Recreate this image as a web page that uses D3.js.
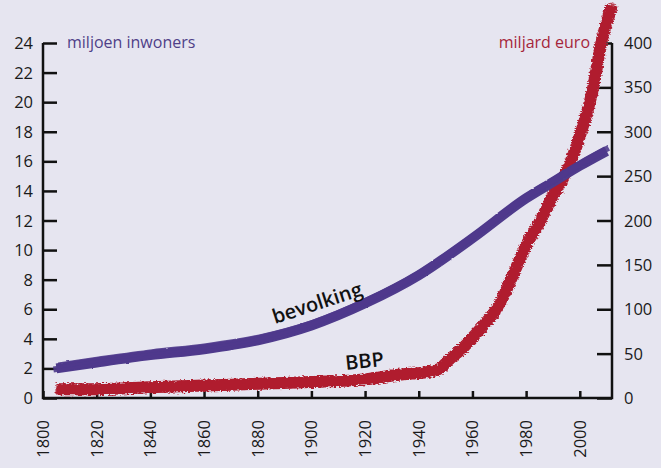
<!DOCTYPE html>
<html>
<head>
<meta charset="utf-8">
<script src="https://cdn.jsdelivr.net/npm/d3@7"></script>
<style>
  body { margin: 0; background: #e6e5f0; }
  svg { display: block; }
  text { font-family: "Open Sans", "DejaVu Sans", sans-serif; }
</style>
</head>
<body>
<div id="chart"></div>
<script>
// bevolking (miljoen inwoners)
const popYears = [1805, 1820, 1840, 1860, 1880, 1900, 1920, 1940, 1960, 1980, 1990, 2000, 2010];
const popValues = [2.0, 2.4, 2.9, 3.3, 3.9, 4.9, 6.4, 8.3, 10.8, 13.5, 14.6, 15.7, 16.7];

// BBP (miljard euro)
const gdpYears = [1805, 1820, 1840, 1860, 1880, 1900, 1920, 1935, 1940, 1947, 1952, 1957, 1960, 1965, 1970, 1975, 1980, 1985, 1990, 1995, 2000, 2005, 2008, 2012];
const gdpValues = [10, 10, 12, 14, 16, 18, 21, 27, 28, 32, 45, 58, 68, 85, 105, 138, 172, 198, 228, 255, 295, 350, 400, 442];

const xTicks = [1800, 1820, 1840, 1860, 1880, 1900, 1920, 1940, 1960, 1980, 2000];
const leftTicks = [0, 2, 4, 6, 8, 10, 12, 14, 16, 18, 20, 22, 24];
const rightTicks = [0, 50, 100, 150, 200, 250, 300, 350, 400];

const W = 661, H = 468;
const x = d3.scaleLinear().domain([1800, 2012]).range([43, 612]);
const yL = d3.scaleLinear().domain([0, 24]).range([398, 43]);
const yR = d3.scaleLinear().domain([0, 400]).range([398, 43]);

const svg = d3.select('#chart').append('svg').attr('width', W).attr('height', H);
svg.append('rect').attr('width', W).attr('height', H).attr('fill', '#e6e5f0');

const defs = svg.append('defs');
const rough = defs.append('filter').attr('id', 'rough').attr('x', '-5%').attr('y', '-5%').attr('width', '110%').attr('height', '110%');
rough.append('feTurbulence').attr('type', 'fractalNoise').attr('baseFrequency', '0.35 0.9').attr('numOctaves', 2).attr('seed', 3).attr('result', 'n');
rough.append('feDisplacementMap').attr('in', 'SourceGraphic').attr('in2', 'n').attr('scale', 5).attr('xChannelSelector', 'R').attr('yChannelSelector', 'G');
const soft = defs.append('filter').attr('id', 'soft');
soft.append('feTurbulence').attr('type', 'fractalNoise').attr('baseFrequency', '0.2 0.6').attr('numOctaves', 1).attr('seed', 7).attr('result', 'n');
soft.append('feDisplacementMap').attr('in', 'SourceGraphic').attr('in2', 'n').attr('scale', 2).attr('xChannelSelector', 'R').attr('yChannelSelector', 'G');

// axes
const axisColor = '#111';
const gL = svg.append('g').attr('transform', 'translate(43,0)')
  .call(d3.axisRight(yL).tickValues(leftTicks).tickSize(14).tickFormat(''));
const gR = svg.append('g').attr('transform', 'translate(612,0)')
  .call(d3.axisLeft(yR).tickValues(rightTicks).tickSize(15).tickFormat(''));
const gB = svg.append('g').attr('transform', 'translate(0,398)')
  .call(d3.axisTop(x).tickValues(xTicks).tickSize(7).tickFormat(''));
[gL, gR, gB].forEach(g => {
  g.select('.domain').remove();
  g.selectAll('line').attr('stroke', axisColor).attr('stroke-width', 2.5);
});
svg.append('path').attr('d', `M43,${yL(24)}V398H612V${yR(400)}`)
  .attr('fill', 'none').attr('stroke', axisColor).attr('stroke-width', 2.5);

// tick labels
svg.append('g').selectAll('text').data(leftTicks).join('text')
  .attr('x', 33).attr('y', d => yL(d) + 6).attr('text-anchor', 'end')
  .attr('font-size', 16.5).attr('fill', '#1a1a1a').text(d => d);
svg.append('g').selectAll('text').data(rightTicks).join('text')
  .attr('x', 624).attr('y', d => yR(d) + 6).attr('text-anchor', 'start')
  .attr('font-size', 16.5).attr('fill', '#1a1a1a').text(d => d);
svg.append('g').selectAll('text').data(xTicks).join('text')
  .attr('transform', d => `translate(${x(d) + 6},420) rotate(-90)`)
  .attr('text-anchor', 'end').attr('font-size', 16.5).attr('fill', '#1a1a1a').text(d => d);

// unit labels
svg.append('text').attr('x', 67).attr('y', 48).attr('font-size', 16).attr('fill', '#4f3f88').text('miljoen inwoners');
svg.append('text').attr('x', 590).attr('y', 48).attr('text-anchor', 'end').attr('font-size', 16).attr('fill', '#a5253b').text('miljard euro');

// series
const popData = popYears.map((d, i) => ({ x: d, y: popValues[i] }));
const gdpData = gdpYears.map((d, i) => ({ x: d, y: gdpValues[i] }));
const popLine = d3.line().curve(d3.curveMonotoneX).x(d => x(d.x)).y(d => yL(d.y));
const gdpLine = d3.line().curve(d3.curveMonotoneX).x(d => x(d.x)).y(d => yR(d.y));

const gdpG = svg.append('g').attr('filter', 'url(#rough)');
[[0, 0, 12, 1], [1, -2, 7, 0.8], [-1, 2, 7, 0.8]].forEach(([dx, dy, w, o]) => {
  gdpG.append('path').datum(gdpData).attr('d', gdpLine)
    .attr('transform', `translate(${dx},${dy})`)
    .attr('fill', 'none').attr('stroke', '#b01e30').attr('stroke-width', w)
    .attr('stroke-opacity', o).attr('stroke-linecap', 'butt');
});

const popG = svg.append('g').attr('filter', 'url(#soft)');
[[0, 0, 10, 1], [2, -3, 6, 0.9], [-3, 1, 6, 0.9]].forEach(([dx, dy, w, o]) => {
  popG.append('path').datum(popData).attr('d', popLine)
    .attr('transform', `translate(${dx},${dy})`)
    .attr('fill', 'none').attr('stroke', '#4f3a8c').attr('stroke-width', w)
    .attr('stroke-opacity', o).attr('stroke-linecap', 'butt');
});

// series labels
svg.append('text').attr('transform', 'translate(275,324) rotate(-18)')
  .attr('font-size', 20).attr('font-weight', 600).attr('fill', '#111').text('bevolking');
svg.append('text').attr('transform', 'translate(346,370) rotate(-6)')
  .attr('font-size', 20).attr('font-weight', 600).attr('fill', '#111').text('BBP');
</script>
</body>
</html>
